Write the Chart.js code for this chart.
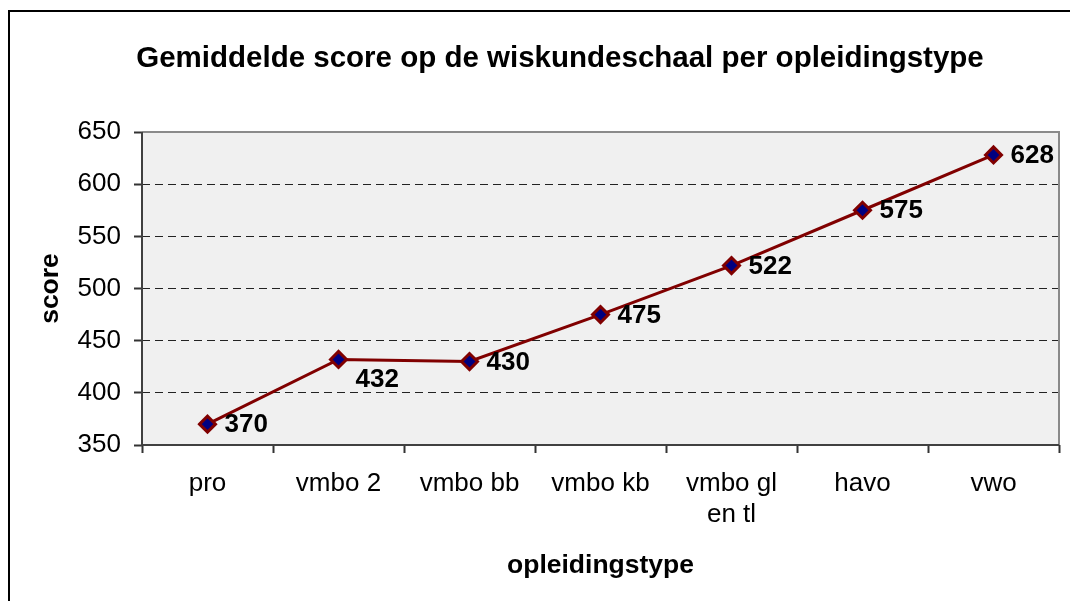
<!DOCTYPE html>
<html lang="nl">
<head>
    <meta charset="UTF-8">
    <title>Gemiddelde score per opleidingstype</title>
    <style>
        html, body { margin: 0; padding: 0; background: #fff; overflow: hidden; }
        #chart { display: block; }
    </style>
</head>
<body>
    <canvas id="chart" width="1070" height="601"></canvas>

    <script src="https://cdn.jsdelivr.net/npm/chart.js"></script>
    <script>
        const categories = ['pro', 'vmbo 2', 'vmbo bb', 'vmbo kb', ['vmbo gl', 'en tl'], 'havo', 'vwo'];
        const scores = [370, 432, 430, 475, 522, 575, 628];
        const yTicks = [350, 400, 450, 500, 550, 600, 650];

        const FONT = '"Liberation Sans", Arial, sans-serif';

        // frame, background, titles and value labels
        const decorations = {
            id: 'decorations',
            beforeDraw(chart) {
                const { ctx, chartArea: a } = chart;
                ctx.save();
                ctx.fillStyle = '#fff';
                ctx.fillRect(0, 0, chart.width, chart.height);
                ctx.strokeStyle = '#000';
                ctx.lineWidth = 2;
                ctx.strokeRect(9, 11, 1200, 800);
                ctx.fillStyle = '#f0f0f0';
                ctx.fillRect(a.left, a.top, a.right - a.left, a.bottom - a.top);
                ctx.restore();
            },
            beforeDatasetsDraw(chart) {
                const { ctx, chartArea: a } = chart;
                ctx.save();
                ctx.lineWidth = 2;
                ctx.strokeStyle = '#8a8a8a';
                ctx.beginPath();
                ctx.moveTo(a.left, a.top);
                ctx.lineTo(a.right, a.top);
                ctx.lineTo(a.right, a.bottom);
                ctx.stroke();
                ctx.strokeStyle = '#404040';
                ctx.beginPath();
                ctx.moveTo(a.left, a.top);
                ctx.lineTo(a.left, a.bottom);
                ctx.lineTo(a.right, a.bottom);
                ctx.stroke();
                ctx.restore();
            },
            afterDraw(chart) {
                const { ctx, chartArea: a } = chart;
                ctx.save();
                ctx.fillStyle = '#000';
                ctx.textAlign = 'center';
                ctx.textBaseline = 'alphabetic';
                ctx.font = 'bold 29.5px ' + FONT;
                ctx.fillText('Gemiddelde score op de wiskundeschaal per opleidingstype', 560, 67);

                ctx.font = 'bold 26.5px ' + FONT;
                ctx.fillText('opleidingstype', (a.left + a.right) / 2, 573);

                ctx.save();
                ctx.translate(58, (a.top + a.bottom) / 2);
                ctx.rotate(-Math.PI / 2);
                ctx.fillText('score', 0, 0);
                ctx.restore();

                // value labels, right of each point
                ctx.font = 'bold 26px ' + FONT;
                ctx.textAlign = 'left';
                ctx.textBaseline = 'middle';
                const pts = chart.getDatasetMeta(0).data;
                pts.forEach((p, i) => {
                    const dy = i === 1 ? 20 : 1;
                    ctx.fillText(String(scores[i]), p.x + 17, p.y + dy);
                });
                ctx.restore();
            }
        };

        new Chart(document.getElementById('chart'), {
            type: 'line',
            data: {
                labels: categories,
                datasets: [{
                    data: scores,
                    borderColor: '#800000',
                    borderWidth: 3,
                    tension: 0,
                    pointStyle: 'rectRot',
                    pointRadius: 8,
                    pointHoverRadius: 8,
                    pointBackgroundColor: '#000080',
                    pointBorderColor: '#800000',
                    pointBorderWidth: 3
                }]
            },
            options: {
                responsive: false,
                animation: false,
                events: [],
                layout: { padding: { top: 132, right: 7, bottom: 0, left: 0 } },
                plugins: {
                    legend: { display: false },
                    title: { display: false },
                    tooltip: { enabled: false }
                },
                scales: {
                    x: {
                        type: 'category',
                        offset: true,
                        afterFit(scale) { scale.height = 156; },
                        grid: {
                            offset: true,
                            drawOnChartArea: false,
                            tickLength: 8,
                            tickColor: '#333',
                            tickWidth: 2
                        },
                        border: { display: false },
                        ticks: {
                            color: '#000',
                            font: { family: FONT, size: 26 },
                            padding: 15,
                            maxRotation: 0,
                            autoSkip: false
                        }
                    },
                    y: {
                        min: 350,
                        max: 650,
                        afterFit(scale) { scale.width = 142; },
                        afterBuildTicks(scale) {
                            scale.ticks = yTicks.map(v => ({ value: v }));
                        },
                        grid: {
                            color: '#222',
                            lineWidth: 1,
                            tickLength: 8,
                            tickColor: '#333',
                            tickWidth: 2,
                            tickBorderDash: []
                        },
                        border: { display: false, dash: [8, 5] },
                        ticks: {
                            color: '#000',
                            font: { family: FONT, size: 26 },
                            padding: 13
                        }
                    }
                }
            },
            plugins: [decorations]
        });
    </script>
</body>
</html>
